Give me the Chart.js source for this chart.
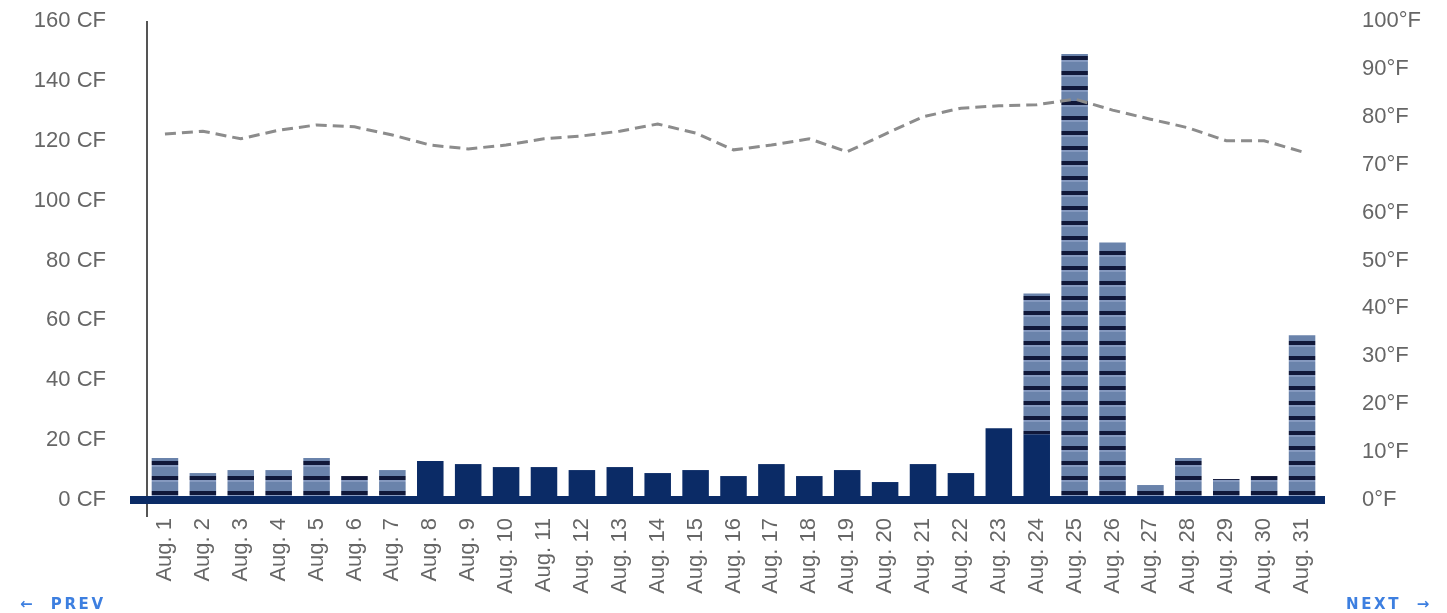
<!DOCTYPE html>
<html>
<head>
<meta charset="utf-8">
<script src="https://cdn.jsdelivr.net/npm/chart.js@4.4.1/dist/chart.umd.min.js"></script>
<style>
    html, body { margin: 0; padding: 0; background: #ffffff; overflow: hidden; }
    #wrap { position: relative; width: 1447px; height: 613px; }
    .nav {
        position: absolute;
        top: 595px;
        font: bold 15px "DejaVu Sans", sans-serif;
        letter-spacing: 2.6px;
        color: #3d7fe0;
        white-space: pre;
    }
    #prev { left: 20px; }
    #next { left: 1346px; }
</style>
</head>
<body>
<div id="wrap">
    <canvas id="usageChart" width="1447" height="613"></canvas>
    <div class="nav" id="prev">←  PREV</div>
    <div class="nav" id="next">NEXT  →</div>
</div>
<script>
const days = [
    "Aug. 1", "Aug. 2", "Aug. 3", "Aug. 4", "Aug. 5", "Aug. 6", "Aug. 7", "Aug. 8",
    "Aug. 9", "Aug. 10", "Aug. 11", "Aug. 12", "Aug. 13", "Aug. 14", "Aug. 15", "Aug. 16",
    "Aug. 17", "Aug. 18", "Aug. 19", "Aug. 20", "Aug. 21", "Aug. 22", "Aug. 23", "Aug. 24",
    "Aug. 25", "Aug. 26", "Aug. 27", "Aug. 28", "Aug. 29", "Aug. 30", "Aug. 31"
];

// solid navy part of each bar (CF)
const usageSolid = [
    0, 0, 0, 0, 0, 0, 0, 13,
    12, 11, 11, 10, 11, 9, 10, 8,
    12, 8, 10, 6, 12, 9, 24, 22,
    0, 0, 0, 0, 0, 0, 0
];

// striped part of each bar (CF)
const usageStriped = [
    14, 9, 10, 10, 14, 8, 10, 0,
    0, 0, 0, 0, 0, 0, 0, 0,
    0, 0, 0, 0, 0, 0, 0, 47,
    149, 86, 5, 14, 7, 8, 55
];

// daily temperature (°F)
const temperature = [
    76.4, 77.0, 75.4, 77.2, 78.3, 77.9, 76.2, 74.1,
    73.3, 74.1, 75.4, 76.0, 77.0, 78.5, 76.6, 73.1,
    74.1, 75.4, 72.7, 76.4, 80.0, 81.8, 82.3, 82.5,
    83.7, 81.4, 79.5, 77.7, 75.0, 75.0, 72.7
];

const cfTicks = [0, 20, 40, 60, 80, 100, 120, 140, 160];
const tempTicks = [0, 10, 20, 30, 40, 50, 60, 70, 80, 90, 100];

const NAVY = "#0b2b66";
const TEXT = "#666666";
const FONT = { family: "'Liberation Sans', Arial, sans-serif", size: 22 };

function makeStripes(ctx) {
    const c = document.createElement("canvas");
    c.width = 8;
    c.height = 15;
    const p = c.getContext("2d");
    p.fillStyle = "#6a83ab";
    p.fillRect(0, 0, 8, 15);
    p.fillStyle = "#8599bf";
    p.fillRect(0, 0, 8, 2);
    p.fillStyle = "#10183a";
    p.fillRect(0, 11, 8, 4);
    return ctx.createPattern(c, "repeat");
}

const axisLines = {
    id: "axisLines",
    afterDatasetsDraw(chart) {
        const { ctx, chartArea } = chart;
        const y0 = chart.scales.y.getPixelForValue(0);
        ctx.save();
        ctx.strokeStyle = "#555555";
        ctx.lineWidth = 2;
        ctx.beginPath();
        ctx.moveTo(chartArea.left + 1, chartArea.top);
        ctx.lineTo(chartArea.left + 1, chartArea.bottom + 17);
        ctx.stroke();
        ctx.strokeStyle = NAVY;
        ctx.lineWidth = 8;
        ctx.beginPath();
        ctx.moveTo(chartArea.left - 16, y0);
        ctx.lineTo(chartArea.right + 4, y0);
        ctx.stroke();
        ctx.restore();
    }
};

function noPadding(scale) {
    scale.paddingTop = 0;
    scale.paddingBottom = 0;
    scale.paddingLeft = 0;
    scale.paddingRight = 0;
}

const canvas = document.getElementById("usageChart");
const ctx = canvas.getContext("2d");
const stripes = makeStripes(ctx);

new Chart(ctx, {
    type: "bar",
    data: {
        labels: days,
        datasets: [
            {
                type: "line",
                label: "Temperature",
                data: temperature,
                yAxisID: "y1",
                borderColor: "#8c8c8c",
                borderWidth: 3,
                borderDash: [11, 6],
                pointRadius: 0,
                tension: 0,
                fill: false,
                order: 0
            },
            {
                label: "Usage",
                data: usageSolid,
                yAxisID: "y",
                backgroundColor: NAVY,
                categoryPercentage: 0.7,
                barPercentage: 1,
                order: 1
            },
            {
                label: "Irrigation",
                data: usageStriped,
                yAxisID: "y",
                backgroundColor: stripes,
                categoryPercentage: 0.7,
                barPercentage: 1,
                order: 1
            }
        ]
    },
    options: {
        responsive: false,
        animation: false,
        devicePixelRatio: 1,
        layout: { padding: { top: 21, left: 0, right: 0, bottom: 0 } },
        plugins: {
            legend: { display: false },
            tooltip: { enabled: false }
        },
        scales: {
            x: {
                stacked: true,
                grid: { display: false, drawTicks: false },
                border: { display: false },
                afterFit: (scale) => { scale.height = 113; noPadding(scale); },
                ticks: {
                    color: TEXT,
                    font: FONT,
                    autoSkip: false,
                    minRotation: 90,
                    maxRotation: 90,
                    padding: 18
                }
            },
            y: {
                stacked: true,
                position: "left",
                min: 0,
                max: 160,
                grid: { display: false, drawTicks: false },
                border: { display: false },
                afterFit: (scale) => { scale.width = 146; noPadding(scale); },
                afterBuildTicks: (scale) => { scale.ticks = cfTicks.map(v => ({ value: v })); },
                ticks: {
                    color: TEXT,
                    font: FONT,
                    padding: 40,
                    callback: (v) => `${v} CF`
                }
            },
            y1: {
                position: "right",
                min: 0,
                max: 100,
                grid: { display: false, drawTicks: false },
                border: { display: false },
                afterFit: (scale) => { scale.width = 126; noPadding(scale); },
                afterBuildTicks: (scale) => { scale.ticks = tempTicks.map(v => ({ value: v })); },
                ticks: {
                    color: TEXT,
                    font: FONT,
                    padding: 41,
                    callback: (v) => `${v}°F`
                }
            }
        }
    },
    plugins: [axisLines]
});
</script>
</body>
</html>
